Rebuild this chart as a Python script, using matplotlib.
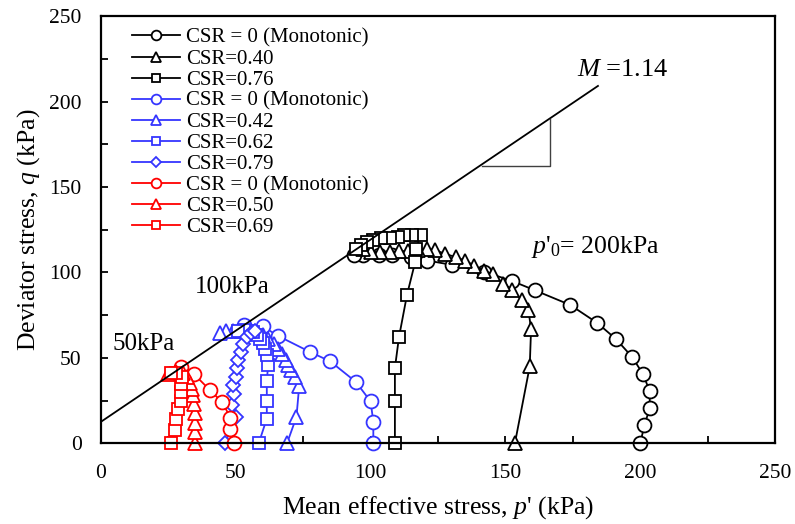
import matplotlib
matplotlib.use("Agg")
import matplotlib.pyplot as plt
from matplotlib.ticker import MultipleLocator

plt.rcParams['font.family'] = ['Liberation Serif', 'DejaVu Serif']
plt.rcParams['mathtext.fontset'] = 'custom'
plt.rcParams['mathtext.rm'] = 'Liberation Serif'
plt.rcParams['mathtext.it'] = 'Liberation Serif:italic'

# p' = 200 kPa series (black)
p200_mono = [200, 201.5, 203.5, 203.5, 201, 197, 191, 184, 174, 161, 152.5, 142, 130, 121, 115, 108, 103, 97, 94]
q200_mono = [0, 10.5, 20.5, 30.5, 40.5, 50.5, 61, 70.5, 81, 89.5, 95, 100.5, 104.5, 107, 109, 110, 110.5, 110.5, 110]
p200_040 = [153.5, 159, 159.5, 158.5, 156, 152.5, 149, 145.5, 142, 138.5, 135, 131.5, 127.5, 124, 121,
            117.5, 114, 110.5, 107, 103.5, 100, 97]
q200_040 = [0, 45, 67, 78, 84, 89.5, 93.5, 99, 101, 104, 107, 109, 111, 113, 114,
            113, 112.5, 112.5, 112, 112, 112, 113.5]
p200_076 = [109, 109, 109, 110.5, 113.5, 116.5, 117, 118.5, 115.5, 112.5, 110, 107, 104, 101, 98.5, 96.5, 94.5]
q200_076 = [0, 25, 44, 62, 87, 106, 114, 122, 122, 122, 121, 120, 120, 119, 118, 116, 114]

# p' = 100 kPa series (blue)
p100_mono = [101, 101, 100, 94.5, 85, 77.5, 65.5, 60, 53]
q100_mono = [0, 12.5, 24.5, 36, 48, 53.5, 63, 68.5, 69.5]
p100_042 = [69, 72.5, 73.5, 72, 70.5, 69.5, 68.5, 67, 65.5, 64, 62, 60, 57.5, 55, 52, 49, 46.5, 44]
q100_042 = [0, 15.5, 33.5, 39, 43, 46, 49, 52, 55, 58, 61, 63.5, 65, 66, 66, 66, 66, 64.5]
p100_062 = [58.5, 61.5, 61.5, 61.5, 62, 61.5, 61, 60, 59, 58, 56.5, 55, 53, 51]
q100_062 = [0, 14.5, 25, 36.5, 46, 51.5, 55, 58.5, 61, 63.5, 65, 66, 66.5, 66]
p100_079 = [46, 50, 48.5, 49.5, 49, 50, 50.5, 51, 52, 52.5, 54, 55.5, 57]
q100_079 = [0, 15.5, 22.5, 29, 34, 39, 44, 48.5, 53.5, 58, 62, 64.5, 66]

# p' = 50 kPa series (red)
p50_mono = [49.5, 48, 48, 45, 40.5, 34.5, 29.5]
q50_mono = [0, 8.5, 15, 24, 31, 40.5, 44.5]
p50_050 = [35, 35, 34.8, 34.7, 34.5, 34.2, 33.8, 33, 32, 30.5, 28, 25]
q50_050 = [0, 6.5, 12, 17.5, 23, 28, 32, 35.5, 39, 41, 42, 40.5]
p50_069 = [26, 27.5, 28, 28.7, 29.5, 29.7, 29.8, 30, 28, 26]
q50_069 = [0, 8, 14.5, 20, 25, 30, 34.5, 39, 41, 41]

# critical state line and slope triangle
csl_p = [0, 184.3]
csl_q = [12.6, 209.2]
tri_p = [141.2, 166.7, 166.7]
tri_q = [162.4, 162.4, 189.8]

blue = '#3535FF'
red = '#FF0000'

fig = plt.figure(figsize=(7.95, 5.24), dpi=100)
ax = fig.add_axes([0.127, 0.154, 0.848, 0.815])

series = [
    (p200_mono, q200_mono, 'k', 'o', 10, 'CSR = 0 (Monotonic)'),
    (p200_040, q200_040, 'k', '^', 10, 'CSR=0.40'),
    (p200_076, q200_076, 'k', 's', 9, 'CSR=0.76'),
    (p100_mono, q100_mono, blue, 'o', 10, 'CSR = 0 (Monotonic)'),
    (p100_042, q100_042, blue, '^', 10, 'CSR=0.42'),
    (p100_062, q100_062, blue, 's', 9, 'CSR=0.62'),
    (p100_079, q100_079, blue, 'D', 7, 'CSR=0.79'),
    (p50_mono, q50_mono, red, 'o', 10, 'CSR = 0 (Monotonic)'),
    (p50_050, q50_050, red, '^', 10, 'CSR=0.50'),
    (p50_069, q50_069, red, 's', 9, 'CSR=0.69'),
]
for p, q, c, m, ms, lab in series:
    ax.plot(p, q, color=c, marker=m, ms=ms, mfc='white', mec=c, mew=1.3, lw=1.3,
            label=lab, clip_on=False)

ax.plot(csl_p, csl_q, color='k', lw=1.3)
ax.plot(tri_p, tri_q, color='#404040', lw=1.0)

ax.text(176.6, 218.5, r'$M$ =1.14', fontsize=19, va='center')
ax.text(159.5, 115, r"$p$'$_\mathit{0}$= 200kPa", fontsize=18.5, va='center')
ax.text(34.9, 91.6, '100kPa', fontsize=18, va='center')
ax.text(4.3, 58.1, '50kPa', fontsize=18, va='center')

ax.set_xlim(0, 250)
ax.set_ylim(0, 250)
ax.xaxis.set_major_locator(MultipleLocator(50))
ax.yaxis.set_major_locator(MultipleLocator(50))
ax.xaxis.set_minor_locator(MultipleLocator(25))
ax.yaxis.set_minor_locator(MultipleLocator(25))
ax.tick_params(which='both', direction='in', length=5, width=1.3, labelsize=15.5)
ax.tick_params(axis='x', pad=15)
ax.tick_params(axis='y', pad=14)
for s in ax.spines.values():
    s.set_linewidth(1.6)

ax.set_xlabel("Mean effective stress, $p$' (kPa)", fontsize=18.5, labelpad=8)
ax.set_ylabel('Deviator stress, $q$ (kPa)', fontsize=18.5, labelpad=5)

ax.legend(loc='upper left', bbox_to_anchor=(0.0455, 0.972), frameon=False, fontsize=15,
          handlelength=2.3, handletextpad=0.3, labelspacing=0.07, markerscale=0.7,
          borderpad=0, borderaxespad=0)

fig.savefig('out.png', dpi=100)
